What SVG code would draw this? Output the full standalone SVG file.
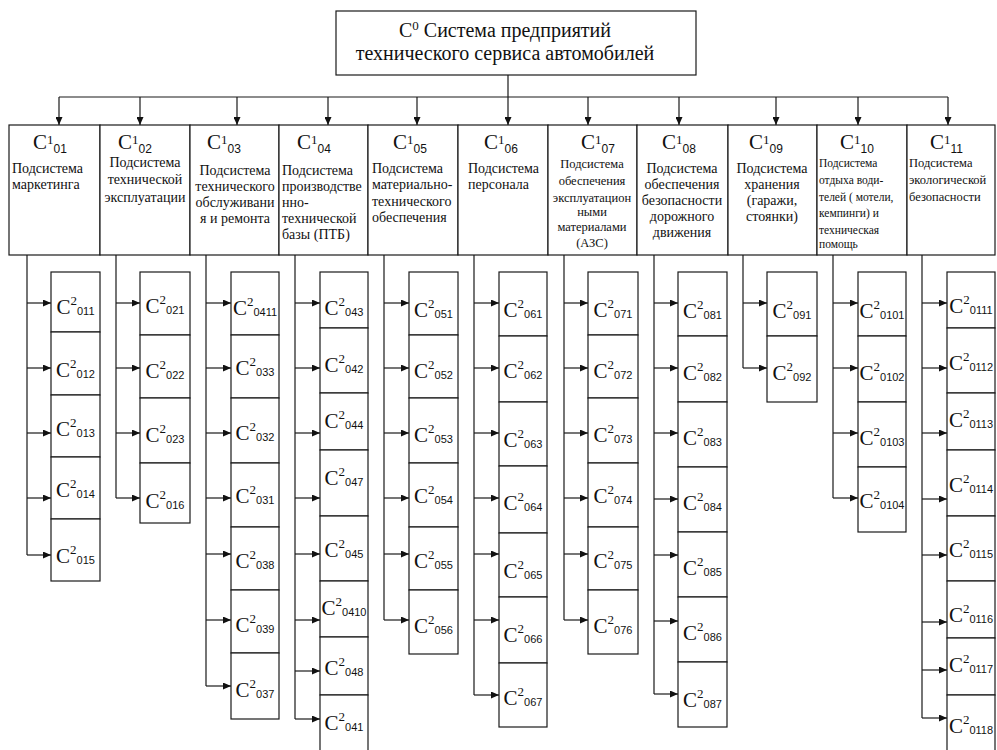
<svg xmlns="http://www.w3.org/2000/svg" width="997" height="750" viewBox="0 0 997 750">
<style>
rect{fill:#fff;stroke:#1a1a1a;stroke-width:1.2}
.ln{fill:none;stroke:#1a1a1a;stroke-width:1.2}
.ar{fill:none;stroke:#1a1a1a;stroke-width:1.2;marker-end:url(#ah)}
.t{font-family:"Liberation Serif",serif;fill:#111}
.top{font-size:20px}
.c1{font-size:21px}
.c2{font-size:21px}
.sup{font-size:13px}
.sub{font-family:"Liberation Sans",sans-serif;font-size:11px}
.sub1{font-family:"Liberation Sans",sans-serif;font-size:12px}
.b{font-size:14px}
.b7{font-size:12.5px}
.b10{font-size:11.5px}
.b11{font-size:12.5px}
.m{text-anchor:middle}
</style>
<defs>
<marker id="ah" markerWidth="8" markerHeight="7" refX="8" refY="3.5" orient="auto" markerUnits="userSpaceOnUse"><path d="M0,0 L8,3.5 L0,7 z" fill="#111"/></marker>
</defs>

<g id="connectors">
<path class="ln" d="M508,75 V97 M59,97 H948"/>
<line class="ar" x1="59" y1="97" x2="59" y2="125"/>
<line class="ar" x1="140" y1="97" x2="140" y2="125"/>
<line class="ar" x1="237" y1="97" x2="237" y2="125"/>
<line class="ar" x1="328" y1="97" x2="328" y2="125"/>
<line class="ar" x1="417" y1="97" x2="417" y2="125"/>
<line class="ar" x1="508" y1="97" x2="508" y2="125"/>
<line class="ar" x1="588" y1="97" x2="588" y2="125"/>
<line class="ar" x1="679" y1="97" x2="679" y2="125"/>
<line class="ar" x1="776" y1="97" x2="776" y2="125"/>
<line class="ar" x1="858" y1="97" x2="858" y2="125"/>
<line class="ar" x1="948" y1="97" x2="948" y2="125"/>
<path class="ln" d="M27,255 V555 M116,255 V498 M206,255 V686 M295,255 V719 M384,255 V620 M474,255 V695 M564,255 V620 M654,255 V694 M743,255 V368 M833,255 V498 M922,255 V718"/>
<line class="ar" x1="27" y1="303" x2="51" y2="303"/>
<line class="ar" x1="27" y1="368" x2="51" y2="368"/>
<line class="ar" x1="27" y1="433" x2="51" y2="433"/>
<line class="ar" x1="27" y1="498" x2="51" y2="498"/>
<line class="ar" x1="27" y1="555" x2="51" y2="555"/>
<line class="ar" x1="116" y1="303" x2="140" y2="303"/>
<line class="ar" x1="116" y1="368" x2="140" y2="368"/>
<line class="ar" x1="116" y1="433" x2="140" y2="433"/>
<line class="ar" x1="116" y1="498" x2="140" y2="498"/>
<line class="ar" x1="206" y1="303" x2="231" y2="303"/>
<line class="ar" x1="206" y1="368" x2="231" y2="368"/>
<line class="ar" x1="206" y1="433" x2="231" y2="433"/>
<line class="ar" x1="206" y1="498" x2="231" y2="498"/>
<line class="ar" x1="206" y1="554" x2="231" y2="554"/>
<line class="ar" x1="206" y1="620" x2="231" y2="620"/>
<line class="ar" x1="206" y1="686" x2="231" y2="686"/>
<line class="ar" x1="295" y1="303" x2="320" y2="303"/>
<line class="ar" x1="295" y1="368" x2="320" y2="368"/>
<line class="ar" x1="295" y1="433" x2="320" y2="433"/>
<line class="ar" x1="295" y1="498" x2="320" y2="498"/>
<line class="ar" x1="295" y1="554" x2="320" y2="554"/>
<line class="ar" x1="295" y1="620" x2="320" y2="620"/>
<line class="ar" x1="295" y1="671" x2="320" y2="671"/>
<line class="ar" x1="295" y1="719" x2="320" y2="719"/>
<line class="ar" x1="384" y1="303" x2="409" y2="303"/>
<line class="ar" x1="384" y1="368" x2="409" y2="368"/>
<line class="ar" x1="384" y1="433" x2="409" y2="433"/>
<line class="ar" x1="384" y1="498" x2="409" y2="498"/>
<line class="ar" x1="384" y1="554" x2="409" y2="554"/>
<line class="ar" x1="384" y1="620" x2="409" y2="620"/>
<line class="ar" x1="474" y1="303" x2="499" y2="303"/>
<line class="ar" x1="474" y1="368" x2="499" y2="368"/>
<line class="ar" x1="474" y1="433" x2="499" y2="433"/>
<line class="ar" x1="474" y1="498" x2="499" y2="498"/>
<line class="ar" x1="474" y1="554" x2="499" y2="554"/>
<line class="ar" x1="474" y1="620" x2="499" y2="620"/>
<line class="ar" x1="474" y1="695" x2="499" y2="695"/>
<line class="ar" x1="564" y1="303" x2="588" y2="303"/>
<line class="ar" x1="564" y1="368" x2="588" y2="368"/>
<line class="ar" x1="564" y1="433" x2="588" y2="433"/>
<line class="ar" x1="564" y1="498" x2="588" y2="498"/>
<line class="ar" x1="564" y1="554" x2="588" y2="554"/>
<line class="ar" x1="564" y1="620" x2="588" y2="620"/>
<line class="ar" x1="654" y1="303" x2="678" y2="303"/>
<line class="ar" x1="654" y1="368" x2="678" y2="368"/>
<line class="ar" x1="654" y1="433" x2="678" y2="433"/>
<line class="ar" x1="654" y1="499" x2="678" y2="499"/>
<line class="ar" x1="654" y1="555" x2="678" y2="555"/>
<line class="ar" x1="654" y1="621" x2="678" y2="621"/>
<line class="ar" x1="654" y1="694" x2="678" y2="694"/>
<line class="ar" x1="743" y1="303" x2="767" y2="303"/>
<line class="ar" x1="743" y1="368" x2="767" y2="368"/>
<line class="ar" x1="833" y1="303" x2="858" y2="303"/>
<line class="ar" x1="833" y1="368" x2="858" y2="368"/>
<line class="ar" x1="833" y1="433" x2="858" y2="433"/>
<line class="ar" x1="833" y1="498" x2="858" y2="498"/>
<line class="ar" x1="922" y1="303" x2="947" y2="303"/>
<line class="ar" x1="922" y1="368" x2="947" y2="368"/>
<line class="ar" x1="922" y1="433" x2="947" y2="433"/>
<line class="ar" x1="922" y1="499" x2="947" y2="499"/>
<line class="ar" x1="922" y1="555" x2="947" y2="555"/>
<line class="ar" x1="922" y1="622" x2="947" y2="622"/>
<line class="ar" x1="922" y1="670" x2="947" y2="670"/>
<line class="ar" x1="922" y1="718" x2="947" y2="718"/>
</g>

<g id="C0">
<rect x="336" y="11" width="360" height="64"/>
<text class="t top m" x="505" y="37">C<tspan class="sup" dy="-7">0</tspan><tspan dy="7"> Система предприятий</tspan></text>
<text class="t top m" x="505" y="60">технического сервиса автомобилей</text>
</g>

<g id="C1_01">
<rect x="9" y="125" width="91" height="130"/>
<text class="t c1" x="33" y="149">C<tspan class="sup" dy="-5">1</tspan><tspan class="sub1" dy="9">01</tspan></text>
<text class="t b" x="12" y="173">Подсистема</text>
<text class="t b" x="12" y="189">маркетинга</text>
</g>
<g id="C1_02">
<rect x="100" y="125" width="90" height="130"/>
<text class="t c1" x="118" y="149">C<tspan class="sup" dy="-5">1</tspan><tspan class="sub1" dy="9">02</tspan></text>
<text class="t b m" x="145" y="167">Подсистема</text>
<text class="t b m" x="145" y="184">технической</text>
<text class="t b m" x="145" y="202">эксплуатации</text>
</g>
<g id="C1_03">
<rect x="190" y="125" width="89" height="130"/>
<text class="t c1" x="207" y="149">C<tspan class="sup" dy="-5">1</tspan><tspan class="sub1" dy="9">03</tspan></text>
<text class="t b m" x="235" y="175">Подсистема</text>
<text class="t b m" x="235" y="191">технического</text>
<text class="t b m" x="235" y="207">обслуживани</text>
<text class="t b m" x="235" y="223">я и ремонта</text>
</g>
<g id="C1_04">
<rect x="279" y="125" width="89" height="130"/>
<text class="t c1" x="297" y="149">C<tspan class="sup" dy="-5">1</tspan><tspan class="sub1" dy="9">04</tspan></text>
<text class="t b" x="282" y="175">Подсистема</text>
<text class="t b" x="282" y="191">производстве</text>
<text class="t b" x="282" y="207">нно-</text>
<text class="t b" x="282" y="223">технической</text>
<text class="t b" x="282" y="239">базы (ПТБ)</text>
</g>
<g id="C1_05">
<rect x="368" y="125" width="90" height="130"/>
<text class="t c1" x="393" y="149">C<tspan class="sup" dy="-5">1</tspan><tspan class="sub1" dy="9">05</tspan></text>
<text class="t b" x="372" y="173">Подсистема</text>
<text class="t b" x="372" y="189">материально-</text>
<text class="t b" x="372" y="206">технического</text>
<text class="t b" x="372" y="222">обеспечения</text>
</g>
<g id="C1_06">
<rect x="458" y="125" width="90" height="130"/>
<text class="t c1" x="484" y="149">C<tspan class="sup" dy="-5">1</tspan><tspan class="sub1" dy="9">06</tspan></text>
<text class="t b" x="468" y="173">Подсистема</text>
<text class="t b" x="468" y="189">персонала</text>
</g>
<g id="C1_07">
<rect x="548" y="125" width="89" height="130"/>
<text class="t c1" x="581" y="149">C<tspan class="sup" dy="-5">1</tspan><tspan class="sub1" dy="9">07</tspan></text>
<text class="t b7 m" x="592" y="168">Подсистема</text>
<text class="t b7 m" x="592" y="185">обеспечения</text>
<text class="t b7 m" x="592" y="202">эксплуатацион</text>
<text class="t b7 m" x="592" y="216">ными</text>
<text class="t b7 m" x="592" y="231">материалами</text>
<text class="t b7 m" x="592" y="247">(АЗС)</text>
</g>
<g id="C1_08">
<rect x="637" y="125" width="91" height="130"/>
<text class="t c1" x="662" y="149">C<tspan class="sup" dy="-5">1</tspan><tspan class="sub1" dy="9">08</tspan></text>
<text class="t b m" x="682" y="173">Подсистема</text>
<text class="t b m" x="682" y="189">обеспечения</text>
<text class="t b m" x="682" y="205">безопасности</text>
<text class="t b m" x="682" y="221">дорожного</text>
<text class="t b m" x="682" y="237">движения</text>
</g>
<g id="C1_09">
<rect x="728" y="125" width="89" height="130"/>
<text class="t c1" x="749" y="149">C<tspan class="sup" dy="-5">1</tspan><tspan class="sub1" dy="9">09</tspan></text>
<text class="t b m" x="772" y="173">Подсистема</text>
<text class="t b m" x="772" y="189">хранения</text>
<text class="t b m" x="772" y="205">(гаражи,</text>
<text class="t b m" x="772" y="221">стоянки)</text>
</g>
<g id="C1_10">
<rect x="817" y="125" width="90" height="130"/>
<text class="t c1" x="840" y="149">C<tspan class="sup" dy="-5">1</tspan><tspan class="sub1" dy="9">10</tspan></text>
<text class="t b10" x="819" y="167">Подсистема</text>
<text class="t b10" x="819" y="184">отдыха води-</text>
<text class="t b10" x="819" y="201">телей ( мотели,</text>
<text class="t b10" x="819" y="217">кемпинги) и</text>
<text class="t b10" x="819" y="234">техническая</text>
<text class="t b10" x="819" y="248">помощь</text>
</g>
<g id="C1_11">
<rect x="907" y="125" width="88" height="130"/>
<text class="t c1" x="930" y="149">C<tspan class="sup" dy="-5">1</tspan><tspan class="sub1" dy="9">11</tspan></text>
<text class="t b11" x="909" y="167">Подсистема</text>
<text class="t b11" x="909" y="184">экологической</text>
<text class="t b11" x="909" y="201">безопасности</text>
</g>

<!-- column 1 -->
<g id="C2_011"><rect x="51" y="272" width="49" height="60"/><text class="t c2 m" x="75.5" y="314">C<tspan class="sup" dy="-9">2</tspan><tspan class="sub" dy="10">011</tspan></text></g>
<g id="C2_012"><rect x="51" y="332" width="49" height="63"/><text class="t c2 m" x="75.5" y="377">C<tspan class="sup" dy="-9">2</tspan><tspan class="sub" dy="10">012</tspan></text></g>
<g id="C2_013"><rect x="51" y="395" width="49" height="62"/><text class="t c2 m" x="75.5" y="436">C<tspan class="sup" dy="-9">2</tspan><tspan class="sub" dy="10">013</tspan></text></g>
<g id="C2_014"><rect x="51" y="457" width="49" height="62"/><text class="t c2 m" x="75.5" y="497">C<tspan class="sup" dy="-9">2</tspan><tspan class="sub" dy="10">014</tspan></text></g>
<g id="C2_015"><rect x="51" y="519" width="49" height="62"/><text class="t c2 m" x="75.5" y="563">C<tspan class="sup" dy="-9">2</tspan><tspan class="sub" dy="10">015</tspan></text></g>

<!-- column 2 -->
<g id="C2_021"><rect x="140" y="272" width="50" height="63"/><text class="t c2 m" x="165" y="313">C<tspan class="sup" dy="-9">2</tspan><tspan class="sub" dy="10">021</tspan></text></g>
<g id="C2_022"><rect x="140" y="335" width="50" height="63"/><text class="t c2 m" x="165" y="378">C<tspan class="sup" dy="-9">2</tspan><tspan class="sub" dy="10">022</tspan></text></g>
<g id="C2_023"><rect x="140" y="398" width="50" height="65"/><text class="t c2 m" x="165" y="442">C<tspan class="sup" dy="-9">2</tspan><tspan class="sub" dy="10">023</tspan></text></g>
<g id="C2_016"><rect x="140" y="463" width="50" height="60"/><text class="t c2 m" x="165" y="508">C<tspan class="sup" dy="-9">2</tspan><tspan class="sub" dy="10">016</tspan></text></g>

<!-- column 3 -->
<g id="C2_0411"><rect x="231" y="272" width="48" height="63"/><text class="t c2 m" x="255" y="315">C<tspan class="sup" dy="-9">2</tspan><tspan class="sub" dy="10">0411</tspan></text></g>
<g id="C2_033"><rect x="231" y="335" width="48" height="63"/><text class="t c2 m" x="255" y="375">C<tspan class="sup" dy="-9">2</tspan><tspan class="sub" dy="10">033</tspan></text></g>
<g id="C2_032"><rect x="231" y="398" width="48" height="65"/><text class="t c2 m" x="255" y="440">C<tspan class="sup" dy="-9">2</tspan><tspan class="sub" dy="10">032</tspan></text></g>
<g id="C2_031"><rect x="231" y="463" width="48" height="64"/><text class="t c2 m" x="255" y="503">C<tspan class="sup" dy="-9">2</tspan><tspan class="sub" dy="10">031</tspan></text></g>
<g id="C2_038"><rect x="231" y="527" width="48" height="63"/><text class="t c2 m" x="255" y="568">C<tspan class="sup" dy="-9">2</tspan><tspan class="sub" dy="10">038</tspan></text></g>
<g id="C2_039"><rect x="231" y="590" width="48" height="63"/><text class="t c2 m" x="255" y="632">C<tspan class="sup" dy="-9">2</tspan><tspan class="sub" dy="10">039</tspan></text></g>
<g id="C2_037"><rect x="231" y="653" width="48" height="66"/><text class="t c2 m" x="255" y="697">C<tspan class="sup" dy="-9">2</tspan><tspan class="sub" dy="10">037</tspan></text></g>

<!-- column 4 -->
<g id="C2_043"><rect x="320" y="272" width="48" height="56"/><text class="t c2 m" x="344" y="315">C<tspan class="sup" dy="-9">2</tspan><tspan class="sub" dy="10">043</tspan></text></g>
<g id="C2_042"><rect x="320" y="328" width="48" height="65"/><text class="t c2 m" x="344" y="372">C<tspan class="sup" dy="-9">2</tspan><tspan class="sub" dy="10">042</tspan></text></g>
<g id="C2_044"><rect x="320" y="393" width="48" height="57"/><text class="t c2 m" x="344" y="428">C<tspan class="sup" dy="-9">2</tspan><tspan class="sub" dy="10">044</tspan></text></g>
<g id="C2_047"><rect x="320" y="450" width="48" height="66"/><text class="t c2 m" x="344" y="485">C<tspan class="sup" dy="-9">2</tspan><tspan class="sub" dy="10">047</tspan></text></g>
<g id="C2_045"><rect x="320" y="516" width="48" height="65"/><text class="t c2 m" x="344" y="557">C<tspan class="sup" dy="-9">2</tspan><tspan class="sub" dy="10">045</tspan></text></g>
<g id="C2_0410"><rect x="320" y="581" width="48" height="56"/><text class="t c2 m" x="344" y="615">C<tspan class="sup" dy="-9">2</tspan><tspan class="sub" dy="10">0410</tspan></text></g>
<g id="C2_048"><rect x="320" y="637" width="48" height="58"/><text class="t c2 m" x="344" y="675">C<tspan class="sup" dy="-9">2</tspan><tspan class="sub" dy="10">048</tspan></text></g>
<g id="C2_041"><rect x="320" y="695" width="48" height="65"/><text class="t c2 m" x="344" y="730">C<tspan class="sup" dy="-9">2</tspan><tspan class="sub" dy="10">041</tspan></text></g>

<!-- column 5 -->
<g id="C2_051"><rect x="409" y="272" width="49" height="63"/><text class="t c2 m" x="433.5" y="317">C<tspan class="sup" dy="-9">2</tspan><tspan class="sub" dy="10">051</tspan></text></g>
<g id="C2_052"><rect x="409" y="335" width="49" height="63"/><text class="t c2 m" x="433.5" y="378">C<tspan class="sup" dy="-9">2</tspan><tspan class="sub" dy="10">052</tspan></text></g>
<g id="C2_053"><rect x="409" y="398" width="49" height="65"/><text class="t c2 m" x="433.5" y="442">C<tspan class="sup" dy="-9">2</tspan><tspan class="sub" dy="10">053</tspan></text></g>
<g id="C2_054"><rect x="409" y="463" width="49" height="64"/><text class="t c2 m" x="433.5" y="503">C<tspan class="sup" dy="-9">2</tspan><tspan class="sub" dy="10">054</tspan></text></g>
<g id="C2_055"><rect x="409" y="527" width="49" height="63"/><text class="t c2 m" x="433.5" y="568">C<tspan class="sup" dy="-9">2</tspan><tspan class="sub" dy="10">055</tspan></text></g>
<g id="C2_056"><rect x="409" y="590" width="49" height="64"/><text class="t c2 m" x="433.5" y="633">C<tspan class="sup" dy="-9">2</tspan><tspan class="sub" dy="10">056</tspan></text></g>

<!-- column 6 -->
<g id="C2_061"><rect x="499" y="272" width="48" height="64"/><text class="t c2 m" x="523" y="317">C<tspan class="sup" dy="-9">2</tspan><tspan class="sub" dy="10">061</tspan></text></g>
<g id="C2_062"><rect x="499" y="336" width="48" height="66"/><text class="t c2 m" x="523" y="378">C<tspan class="sup" dy="-9">2</tspan><tspan class="sub" dy="10">062</tspan></text></g>
<g id="C2_063"><rect x="499" y="402" width="48" height="64"/><text class="t c2 m" x="523" y="447">C<tspan class="sup" dy="-9">2</tspan><tspan class="sub" dy="10">063</tspan></text></g>
<g id="C2_064"><rect x="499" y="466" width="48" height="67"/><text class="t c2 m" x="523" y="510">C<tspan class="sup" dy="-9">2</tspan><tspan class="sub" dy="10">064</tspan></text></g>
<g id="C2_065"><rect x="499" y="533" width="48" height="64"/><text class="t c2 m" x="523" y="578">C<tspan class="sup" dy="-9">2</tspan><tspan class="sub" dy="10">065</tspan></text></g>
<g id="C2_066"><rect x="499" y="597" width="48" height="66"/><text class="t c2 m" x="523" y="642">C<tspan class="sup" dy="-9">2</tspan><tspan class="sub" dy="10">066</tspan></text></g>
<g id="C2_067"><rect x="499" y="663" width="48" height="64"/><text class="t c2 m" x="523" y="705">C<tspan class="sup" dy="-9">2</tspan><tspan class="sub" dy="10">067</tspan></text></g>

<!-- column 7 -->
<g id="C2_071"><rect x="588" y="272" width="50" height="63"/><text class="t c2 m" x="613" y="317">C<tspan class="sup" dy="-9">2</tspan><tspan class="sub" dy="10">071</tspan></text></g>
<g id="C2_072"><rect x="588" y="335" width="50" height="63"/><text class="t c2 m" x="613" y="378">C<tspan class="sup" dy="-9">2</tspan><tspan class="sub" dy="10">072</tspan></text></g>
<g id="C2_073"><rect x="588" y="398" width="50" height="65"/><text class="t c2 m" x="613" y="442">C<tspan class="sup" dy="-9">2</tspan><tspan class="sub" dy="10">073</tspan></text></g>
<g id="C2_074"><rect x="588" y="463" width="50" height="64"/><text class="t c2 m" x="613" y="503">C<tspan class="sup" dy="-9">2</tspan><tspan class="sub" dy="10">074</tspan></text></g>
<g id="C2_075"><rect x="588" y="527" width="50" height="63"/><text class="t c2 m" x="613" y="568">C<tspan class="sup" dy="-9">2</tspan><tspan class="sub" dy="10">075</tspan></text></g>
<g id="C2_076"><rect x="588" y="590" width="50" height="64"/><text class="t c2 m" x="613" y="633">C<tspan class="sup" dy="-9">2</tspan><tspan class="sub" dy="10">076</tspan></text></g>

<!-- column 8 -->
<g id="C2_081"><rect x="678" y="272" width="49" height="64"/><text class="t c2 m" x="702.5" y="318">C<tspan class="sup" dy="-9">2</tspan><tspan class="sub" dy="10">081</tspan></text></g>
<g id="C2_082"><rect x="678" y="336" width="49" height="66"/><text class="t c2 m" x="702.5" y="380">C<tspan class="sup" dy="-9">2</tspan><tspan class="sub" dy="10">082</tspan></text></g>
<g id="C2_083"><rect x="678" y="402" width="49" height="65"/><text class="t c2 m" x="702.5" y="445">C<tspan class="sup" dy="-9">2</tspan><tspan class="sub" dy="10">083</tspan></text></g>
<g id="C2_084"><rect x="678" y="467" width="49" height="65"/><text class="t c2 m" x="702.5" y="510">C<tspan class="sup" dy="-9">2</tspan><tspan class="sub" dy="10">084</tspan></text></g>
<g id="C2_085"><rect x="678" y="532" width="49" height="65"/><text class="t c2 m" x="702.5" y="575">C<tspan class="sup" dy="-9">2</tspan><tspan class="sub" dy="10">085</tspan></text></g>
<g id="C2_086"><rect x="678" y="597" width="49" height="65"/><text class="t c2 m" x="702.5" y="640">C<tspan class="sup" dy="-9">2</tspan><tspan class="sub" dy="10">086</tspan></text></g>
<g id="C2_087"><rect x="678" y="662" width="49" height="65"/><text class="t c2 m" x="702.5" y="707">C<tspan class="sup" dy="-9">2</tspan><tspan class="sub" dy="10">087</tspan></text></g>

<!-- column 9 -->
<g id="C2_091"><rect x="767" y="272" width="50" height="64"/><text class="t c2 m" x="792" y="318">C<tspan class="sup" dy="-9">2</tspan><tspan class="sub" dy="10">091</tspan></text></g>
<g id="C2_092"><rect x="767" y="336" width="50" height="66"/><text class="t c2 m" x="792" y="380">C<tspan class="sup" dy="-9">2</tspan><tspan class="sub" dy="10">092</tspan></text></g>

<!-- column 10 -->
<g id="C2_0101"><rect x="858" y="272" width="48" height="64"/><text class="t c2 m" x="882" y="318">C<tspan class="sup" dy="-9">2</tspan><tspan class="sub" dy="10">0101</tspan></text></g>
<g id="C2_0102"><rect x="858" y="336" width="48" height="66"/><text class="t c2 m" x="882" y="380">C<tspan class="sup" dy="-9">2</tspan><tspan class="sub" dy="10">0102</tspan></text></g>
<g id="C2_0103"><rect x="858" y="402" width="48" height="65"/><text class="t c2 m" x="882" y="445">C<tspan class="sup" dy="-9">2</tspan><tspan class="sub" dy="10">0103</tspan></text></g>
<g id="C2_0104"><rect x="858" y="467" width="48" height="65"/><text class="t c2 m" x="882" y="508">C<tspan class="sup" dy="-9">2</tspan><tspan class="sub" dy="10">0104</tspan></text></g>

<!-- column 11 -->
<g id="C2_0111"><rect x="947" y="272" width="48" height="56"/><text class="t c2 m" x="971" y="313">C<tspan class="sup" dy="-9">2</tspan><tspan class="sub" dy="10">0111</tspan></text></g>
<g id="C2_0112"><rect x="947" y="328" width="48" height="65"/><text class="t c2 m" x="971" y="370">C<tspan class="sup" dy="-9">2</tspan><tspan class="sub" dy="10">0112</tspan></text></g>
<g id="C2_0113"><rect x="947" y="393" width="48" height="57"/><text class="t c2 m" x="971" y="427">C<tspan class="sup" dy="-9">2</tspan><tspan class="sub" dy="10">0113</tspan></text></g>
<g id="C2_0114"><rect x="947" y="450" width="48" height="66"/><text class="t c2 m" x="971" y="492">C<tspan class="sup" dy="-9">2</tspan><tspan class="sub" dy="10">0114</tspan></text></g>
<g id="C2_0115"><rect x="947" y="516" width="48" height="65"/><text class="t c2 m" x="971" y="557">C<tspan class="sup" dy="-9">2</tspan><tspan class="sub" dy="10">0115</tspan></text></g>
<g id="C2_0116"><rect x="947" y="581" width="48" height="57"/><text class="t c2 m" x="971" y="622">C<tspan class="sup" dy="-9">2</tspan><tspan class="sub" dy="10">0116</tspan></text></g>
<g id="C2_0117"><rect x="947" y="638" width="48" height="57"/><text class="t c2 m" x="971" y="672">C<tspan class="sup" dy="-9">2</tspan><tspan class="sub" dy="10">0117</tspan></text></g>
<g id="C2_0118"><rect x="947" y="695" width="48" height="65"/><text class="t c2 m" x="971" y="733">C<tspan class="sup" dy="-9">2</tspan><tspan class="sub" dy="10">0118</tspan></text></g>
</svg>
